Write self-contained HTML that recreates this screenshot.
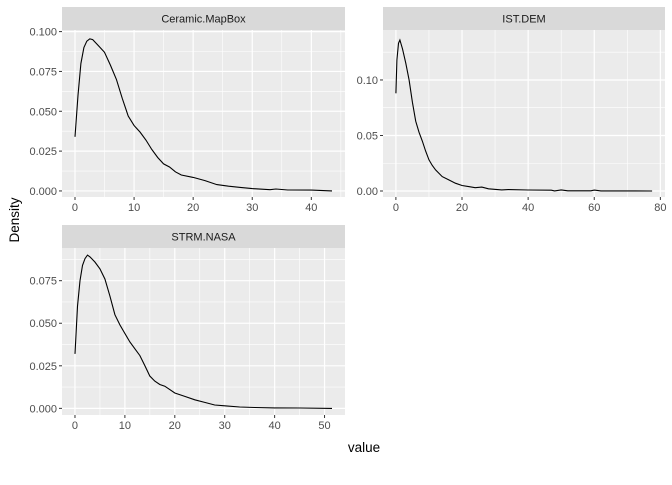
<!DOCTYPE html>
<html><head><meta charset="utf-8"><style>
body{margin:0;background:#fff;font-family:"Liberation Sans",Arial,sans-serif}
</style></head><body>
<svg id="c" width="672" height="480" xmlns="http://www.w3.org/2000/svg"></svg>
<script>
const facetNames=["Ceramic.MapBox","IST.DEM","STRM.NASA"];
const xs1=[0,0.5,1,1.5,2,2.5,3,4,5,6,7,8,9,10,11,12,13,14,15,16,17,18,20,22,24,26,28,30,33,34,36,40,42,43.5];
const ys1=[0.034,0.06,0.08,0.09,0.094,0.0955,0.095,0.091,0.087,0.079,0.07,0.058,0.047,0.041,0.037,0.032,0.026,0.021,0.017,0.015,0.012,0.010,0.0085,0.0065,0.004,0.003,0.0022,0.0015,0.0008,0.0012,0.0006,0.0005,0.0002,0];
const xs2=[0,0.3,0.8,1.2,2,3,4,5,6,7,8,9,10,11,12,14,16,18,20,22,24,26,28,32,34,40,47,48,50,52,59,60,62,77.5];
const ys2=[0.088,0.118,0.133,0.136,0.128,0.115,0.1,0.08,0.063,0.053,0.045,0.036,0.028,0.023,0.019,0.013,0.01,0.007,0.005,0.004,0.003,0.0035,0.002,0.001,0.0013,0.0009,0.0007,0.0001,0.001,0.0002,0.0002,0.0008,0.0001,0];
const xs3=[0,0.5,1,1.5,2,2.5,3,4,5,6,7,8,9,10,11,12,13,14,15,16,17,18,19,20,22,24,26,28,30,33,36,40,45,51.5];
const ys3=[0.032,0.06,0.075,0.084,0.088,0.09,0.089,0.086,0.082,0.076,0.066,0.055,0.049,0.044,0.039,0.035,0.031,0.025,0.019,0.016,0.014,0.013,0.011,0.009,0.007,0.005,0.0035,0.002,0.0015,0.0008,0.0005,0.0003,0.0002,0];
const xTicks1=[0,10,20,30,40], yTicks1=[0,0.025,0.05,0.075,0.1], yLab1=["0.000","0.025","0.050","0.075","0.100"];
const xTicks2=[0,20,40,60,80], yTicks2=[0,0.05,0.1], yLab2=["0.00","0.05","0.10"];
const xTicks3=[0,10,20,30,40,50], yTicks3=[0,0.025,0.05,0.075], yLab3=["0.000","0.025","0.050","0.075"];
const svg=document.getElementById('c'),NS='http://www.w3.org/2000/svg';
function mk(t,a,p){const e=document.createElementNS(NS,t);for(const k in a)e.setAttribute(k,a[k]);(p||svg).appendChild(e);return e;}
function panel(name,px,pt,pw,ph,xr,yr,xs,ys,xT,yT,yL,id){
 const g=mk('g',{});
 
 
 const sx=v=>px+(v-xr[0])/(xr[1]-xr[0])*pw, sy=v=>pt+ph-(v-yr[0])/(yr[1]-yr[0])*ph;
 const st=mk('rect',{x:px,y:pt-23,width:pw,height:23,fill:'#d9d9d9'},g);
 
 
 const stt=mk('text',{x:px+pw/2,y:pt-7.5,'text-anchor':'middle','font-size':'11',fill:'#1a1a1a'},g);stt.textContent=name;
 
 
 mk('rect',{x:px,y:pt,width:pw,height:ph,fill:'#ebebeb'},g);
 for(let i=0;i<xT.length+1;i++){const m=(i<xT.length?xT[i]:xT[xT.length-1]+(xT[1]-xT[0]))-(xT[1]-xT[0])/2;if(sx(m)>px&&sx(m)<px+pw)mk('line',{x1:sx(m),x2:sx(m),y1:pt,y2:pt+ph,stroke:'#fff','stroke-width':0.6},g);}
 for(let i=0;i<yT.length+1;i++){const m=(i<yT.length?yT[i]:yT[yT.length-1]+(yT[1]-yT[0]))-(yT[1]-yT[0])/2;if(sy(m)>pt&&sy(m)<pt+ph)mk('line',{y1:sy(m),y2:sy(m),x1:px,x2:px+pw,stroke:'#fff','stroke-width':0.6},g);}
 xT.forEach(v=>{mk('line',{x1:sx(v),x2:sx(v),y1:pt,y2:pt+ph,stroke:'#fff','stroke-width':1.2},g);mk('line',{x1:sx(v),x2:sx(v),y1:pt+ph,y2:pt+ph+3,stroke:'#333','stroke-width':1},g);
  const t=mk('text',{x:sx(v),y:pt+ph+14,'text-anchor':'middle','font-size':'11',fill:'#4d4d4d'},g);t.textContent=v;});
 yT.forEach((v,i)=>{mk('line',{y1:sy(v),y2:sy(v),x1:px,x2:px+pw,stroke:'#fff','stroke-width':1.2},g);mk('line',{y1:sy(v),y2:sy(v),x1:px-3,x2:px,stroke:'#333','stroke-width':1},g);
  const t=mk('text',{x:px-5,y:sy(v)+4,'text-anchor':'end','font-size':'11',fill:'#4d4d4d'},g);t.textContent=yL[i];});
 const d=xs.map((x,i)=>(i?'L':'M')+sx(x).toFixed(1)+','+sy(ys[i]).toFixed(1)).join('');
 const p=mk('path',{d:d,fill:'none',stroke:'#000','stroke-width':1.1},g);
 
 
}
panel(facetNames[0],62,30,283,167,[-2.2,45.7],[-0.0038,0.101],xs1,ys1,xTicks1,yTicks1,yLab1,'ceramic-mapbox');
panel(facetNames[1],383,30,282,167,[-3.9,81.4],[-0.0054,0.145],xs2,ys2,xTicks2,yTicks2,yLab2,'ist-dem');
panel(facetNames[2],62,248,283,167,[-2.6,54.1],[-0.0039,0.0942],xs3,ys3,xTicks3,yTicks3,yLab3,'strm-nasa');
const xl=mk('text',{x:364,y:452,'text-anchor':'middle','font-size':'13.5',fill:'#000'});xl.textContent='value';


const yl=mk('text',{x:0,y:0,'text-anchor':'middle','font-size':'13.5',fill:'#000',transform:'translate(19,220) rotate(-90)'});yl.textContent='Density';


</script>
</body></html>
